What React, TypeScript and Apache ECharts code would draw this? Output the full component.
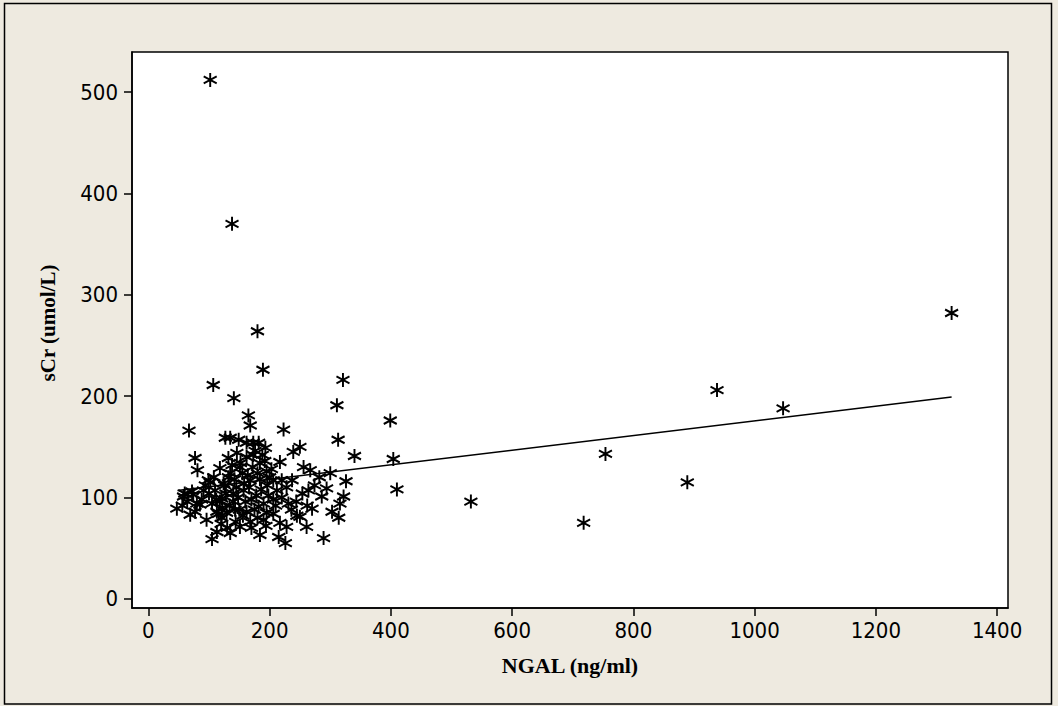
import React, { useEffect, useRef } from "react";
import * as echarts from "echarts";

// NGAL (ng/ml) values of each patient
const ngal = [
  102, 138, 180, 189, 107, 321, 141, 311, 399, 165, 168, 67, 223, 313, 340, 404, 410, 532,
  1325, 938, 1047, 754, 889, 718,
  127, 135, 149, 182, 193, 77, 81, 250, 239, 217, 256, 267, 300, 326, 237, 264, 294, 286,
  322, 316, 270, 231, 303, 314, 250, 261, 217, 228, 184, 215, 226, 289, 105, 47, 69, 58,
  99, 118, 132, 113, 135, 151, 121, 168, 190, 195, 182, 206, 212, 206, 195, 184, 173, 146,
  135, 124, 110, 91, 74, 85, 105, 121, 140, 157, 168, 151, 162, 173, 143, 162, 129, 113,
  96, 77, 102, 245, 220,
  118, 126, 134, 142, 148, 155, 160, 166, 172, 178, 184, 190, 196, 203, 128, 138, 150, 162,
  175, 186, 198, 122, 132, 145, 158, 170, 180, 192, 112, 100, 88, 80, 64, 72, 56, 60, 94,
  108, 116, 140, 152, 164, 176, 188, 200, 210, 220, 228, 236, 244, 254, 262, 274, 282, 144,
  156, 170, 180, 194, 206, 130, 120,
];

// sCr (umol/L) values, same order as ngal
const scr = [
  512, 370, 264, 226, 211, 216, 198, 191, 176, 181, 171, 166, 167, 157, 141, 138, 108, 96,
  282, 206, 188, 143, 115, 75,
  159, 159, 157, 154, 149, 139, 127, 150, 145, 135, 130, 127, 124, 116, 117, 107, 109, 101,
  101, 94, 89, 94, 86, 80, 81, 71, 75, 71, 63, 61, 55, 60, 59, 89, 83, 101,
  117, 129, 139, 66, 65, 71, 80, 76, 78, 85, 91, 98, 107, 117, 126, 134, 142, 144,
  124, 114, 107, 107, 103, 93, 94, 99, 104, 107, 117, 130, 154, 154, 88, 86, 85, 86,
  78, 86, 115, 82, 117,
  96, 112, 92, 118, 100, 124, 96, 110, 130, 102, 118, 94, 112, 128, 104, 132, 88, 140,
  88, 108, 102, 90, 120, 110, 114, 98, 124, 136, 98, 104, 98, 94, 96, 106, 92, 104, 112,
  120, 84, 96, 134, 122, 146, 142, 120, 92, 100, 110, 88, 96, 104, 92, 112, 120, 76,
  82, 70, 80, 72, 84, 70, 74,
];

// Fitted regression line end points
const fitNgal = [48, 1325];
const fitScr = [106.8, 199.1];

const xTicks = [0, 200, 400, 600, 800, 1000, 1200, 1400];
const yTicks = [0, 100, 200, 300, 400, 500];

const tickFont = '"DejaVu Sans Condensed", "DejaVu Sans", sans-serif';
const titleFont = '"Liberation Serif", "Times New Roman", serif';

export default function App() {
  const ref = useRef<HTMLDivElement>(null);
  useEffect(() => {
    document.body.style.margin = "0";
    const chart = echarts.init(ref.current as HTMLDivElement, null, { renderer: "svg" });
    chart.setOption({
      animation: false,
      backgroundColor: "#EEEAE0",
      graphic: [
        {
          type: "rect",
          silent: true,
          shape: { x: 4.5, y: 3.5, width: 1047, height: 700.5 },
          style: { fill: "none", stroke: "#000", lineWidth: 1.5 },
        },
      ],
      grid: {
        left: 132,
        top: 52,
        right: 50,
        bottom: 98,
        show: true,
        backgroundColor: "#fff",
        borderColor: "#000",
        borderWidth: 1.5,
      },
      xAxis: {
        type: "value",
        min: -27,
        max: 1418,
        splitLine: { show: false },
        axisLine: { show: true, onZero: false, lineStyle: { color: "#000", width: 1.5 } },
        axisTick: { show: true, inside: false, length: 8, customValues: xTicks, lineStyle: { color: "#000", width: 1.5 } },
        axisLabel: {
          customValues: xTicks,
          margin: 11,
          color: "#000",
          fontSize: 22,
          fontFamily: tickFont,
          formatter: (v: number) => String(v),
        },
        name: "NGAL (ng/ml)",
        nameLocation: "middle",
        nameGap: 46,
        nameTextStyle: { fontFamily: titleFont, fontWeight: "bold", fontSize: 22, color: "#000" },
      },
      yAxis: {
        type: "value",
        min: -9,
        max: 539.5,
        splitLine: { show: false },
        axisLine: { show: true, onZero: false, lineStyle: { color: "#000", width: 1.5 } },
        axisTick: { show: true, inside: false, length: 8, customValues: yTicks, lineStyle: { color: "#000", width: 1.5 } },
        axisLabel: {
          customValues: yTicks,
          margin: 14,
          color: "#000",
          fontSize: 22,
          fontFamily: tickFont,
          formatter: (v: number) => String(v),
        },
        name: "sCr (umol/L)",
        nameLocation: "middle",
        nameGap: 74,
        nameTextStyle: { fontFamily: titleFont, fontWeight: "bold", fontSize: 21, color: "#000", padding: [0, 0, 0, 14] },
      },
      series: [
        {
          type: "line",
          data: fitNgal.map((x, i) => [x, fitScr[i]]),
          symbol: "none",
          lineStyle: { color: "#000", width: 1.5 },
          z: 2,
        },
        {
          type: "scatter",
          data: ngal.map((x, i) => [x, scr[i]]),
          symbol: "path://M0,-10L0,10M-8.66,-5L8.66,5M-8.66,5L8.66,-5",
          symbolSize: [13, 14],
          itemStyle: { color: "transparent", borderColor: "#000", borderWidth: 2, opacity: 1 },
          z: 3,
        },
      ],
    });
    return () => chart.dispose();
  }, []);
  return <div ref={ref} style={{ width: 1058, height: 706 }} />;
}
